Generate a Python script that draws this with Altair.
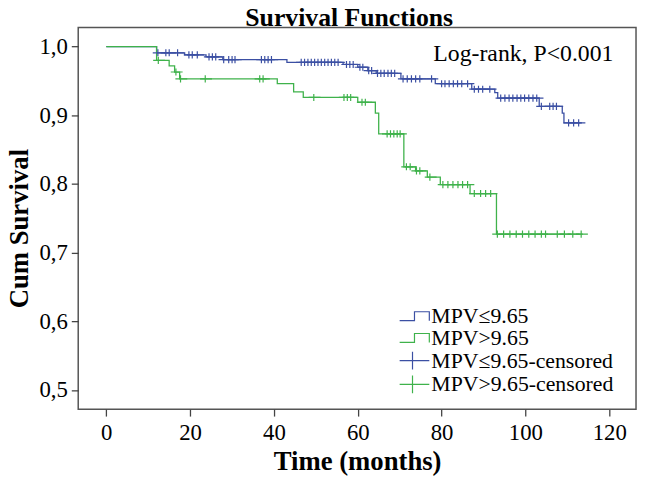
import altair as alt
import numpy as np
import pandas as pd

# ---- series names ----
LOW = "MPV≤9.65"
HIGH = "MPV>9.65"
LOW_C = "MPV≤9.65-censored"
HIGH_C = "MPV>9.65-censored"

# ---- Kaplan-Meier steps (time in months, cumulative survival) ----
low_step_t = [0, 12, 18.7, 23.8, 27.8, 43.1, 56.5, 60, 62.4, 64.4, 70.3, 78.5,
              87.2, 92.7, 93.4, 103.3, 108.8, 109.2, 113.5]
low_step_s = [1.0, 0.991, 0.988, 0.985, 0.981, 0.977, 0.974, 0.970, 0.965, 0.961,
              0.953, 0.946, 0.938, 0.933, 0.925, 0.913, 0.903, 0.889, 0.889]

high_step_t = [0, 12, 15, 16.3, 17.5, 40.8, 44.7, 47, 60, 64.2, 65, 71, 73.8,
               76.6, 79.7, 86.8, 93.1, 113.7]
high_step_s = [1.0, 0.980, 0.972, 0.963, 0.953, 0.946, 0.934, 0.926, 0.919, 0.903,
               0.873, 0.825, 0.819, 0.810, 0.799, 0.786, 0.727, 0.727]

# ---- censored observation times ----
low_cens_t = [12.5, 14.4, 15.2, 17.2, 19.9, 20.7, 21.9, 24.7, 25.5, 26.3, 28.2, 29.4,
              30.2, 30.9, 37.2, 38.0, 38.8, 39.6, 46.7, 47.5, 48.3, 49.1, 49.9, 50.7,
              51.5, 52.3, 53.1, 53.9, 54.7, 55.5, 57.5, 58.3, 59.1, 60.7, 61.4, 62.8,
              63.5, 64.9, 65.7, 66.5, 67.4, 68.2, 69.0, 71.0, 72.0, 73.0, 74.0, 75.0,
              77.8, 80.2, 81.0, 82.0, 83.0, 84.0, 85.0, 86.4, 88.0, 89.0, 90.0, 91.7,
              94.3, 95.3, 96.3, 97.2, 98.2, 99.1, 100.0, 101.0, 102.0, 102.9, 104.0,
              106.0, 106.8, 107.6, 110.5, 111.7, 112.9]
high_cens_t = [12.6, 16.8, 17.9, 23.8, 36.8, 37.6, 49.7, 56.9, 57.7, 58.5, 61.2, 62.0,
               67.2, 68.0, 68.8, 69.6, 70.3, 71.8, 72.7, 74.2, 75.0, 77.4, 80.5, 81.7,
               82.9, 84.1, 85.2, 86.4, 88.0, 89.5, 90.7, 91.9, 93.5, 95.0, 96.5, 98.0,
               99.5, 101.0, 102.5, 104.0, 105.0, 107.8, 109.5, 111.5, 113.5]

chart_title = ["Survival Functions"]
annotation = ["Log-rank, P<0.001"]
x_ticks = [0, 20, 40, 60, 80, 100, 120]
y_ticks = [0.5, 0.6, 0.7, 0.8, 0.9, 1.0]

BLUE = "#3b4fa3"
GREEN = "#3fb24b"
STEP = "M-1.5,0.45L0,0.45L0,-0.45L1.5,-0.45L1.5,0.45"
CROSS = "M-1.5,0L1.5,0M-0.2,-0.9L-0.2,0.9"
SERIF = "Liberation Serif"


def level_at(step_t, step_s, times):
    idx = np.searchsorted(np.array(step_t), np.array(times), side="right") - 1
    return [step_s[i] for i in idx]


steps = pd.concat([
    pd.DataFrame({"time": low_step_t, "surv": low_step_s, "series": LOW}),
    pd.DataFrame({"time": high_step_t, "surv": high_step_s, "series": HIGH}),
])
cens = pd.concat([
    pd.DataFrame({"time": low_cens_t, "surv": level_at(low_step_t, low_step_s, low_cens_t), "series": LOW_C}),
    pd.DataFrame({"time": high_cens_t, "surv": level_at(high_step_t, high_step_s, high_cens_t), "series": HIGH_C}),
])
note = pd.DataFrame({"time": [121.0], "surv": [0.9796], "label": annotation})
head = pd.DataFrame({"label": chart_title})

domain = [LOW, HIGH, LOW_C, HIGH_C]
color_scale = alt.Scale(domain=domain, range=[BLUE, GREEN, BLUE, GREEN])
shape_scale = alt.Scale(domain=domain, range=[STEP, STEP, CROSS, CROSS])

x_enc = alt.X("time:Q", scale=alt.Scale(domain=[-6.7, 126.4], nice=False, zero=False),
              axis=alt.Axis(values=x_ticks, title="Time (months)", titleY=61,
                            titleBaseline="alphabetic", labelPadding=6, format="d"))
y_enc = alt.Y("surv:Q", scale=alt.Scale(domain=[0.472, 1.028], nice=False, zero=False),
              axis=alt.Axis(values=y_ticks, title="Cum Survival", titleX=-51, titleY=203,
                            titleBaseline="alphabetic", labelPadding=4,
                            labelExpr="replace(format(datum.value, '.1f'), '.', ',')"))

leg = alt.Legend(title=None, orient="none", legendX=329, legendY=281,
                 labelFont=SERIF, labelFontSize=22, labelColor="black", labelLimit=400,
                 symbolSize=400, symbolStrokeWidth=1.2, symbolFillColor="transparent",
                 rowPadding=0, labelOffset=6, padding=0)

lines = alt.Chart(steps).mark_line(interpolate="step-after", strokeWidth=1.3).encode(
    x=x_enc, y=y_enc,
    color=alt.Color("series:N", scale=color_scale, legend=leg),
)
points = alt.Chart(cens).mark_point(filled=False, size=64, strokeWidth=1.2, opacity=1).encode(
    x=x_enc, y=y_enc,
    color=alt.Color("series:N", scale=color_scale, legend=leg),
    shape=alt.Shape("series:N", scale=shape_scale, legend=leg),
)
text = alt.Chart(note).mark_text(align="right", baseline="alphabetic", font=SERIF,
                                 fontSize=24, color="black").encode(
    x="time:Q", y="surv:Q", text="label:N")
title_text = alt.Chart(head).mark_text(align="center", baseline="alphabetic", font=SERIF,
                                       fontSize=26, fontWeight="bold", color="black").encode(
    x=alt.value(274), y=alt.value(-1), text="label:N")

chart = alt.layer(lines, points, text, title_text).properties(
    width=564, height=386,
    autosize=alt.AutoSizeParams(type="none"),
    padding={"left": 71, "top": 17, "right": 2, "bottom": 68},
).configure(font=SERIF).configure_view(stroke="#555555", strokeWidth=1.5).configure_axis(
    domain=False, grid=False, tickColor="#444444", tickSize=7, tickWidth=1.3,
    labelFont=SERIF, labelFontSize=23, labelColor="black",
    titleFont=SERIF, titleFontSize=27, titleFontWeight="bold", titleColor="black",
).configure_legend(
    labelFont=SERIF, labelFontSize=22, labelColor="black", labelLimit=400,
)

chart.save("out.html", embed_options={"renderer": "svg", "actions": False})
